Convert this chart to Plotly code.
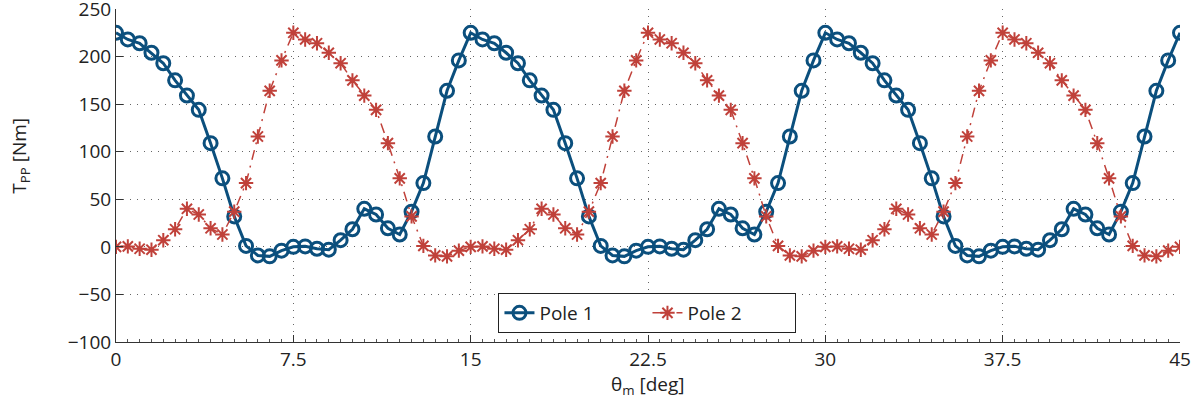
import plotly.graph_objects as go

# Rotor angle samples (deg), 0.5 deg step over 45 deg
theta_m = [i * 0.5 for i in range(91)]

# Pulsating torque of pole 1 (Nm)
pole1 = [
    225, 218, 214, 204, 193, 175, 159, 144, 109, 72, 32, 1, -9, -10, -4,
    0, 0.5, -2, -3, 7, 18.5, 40, 34, 19.5, 13, 37, 67, 116, 164, 196,
    225, 218, 214, 204, 193, 175, 159, 144, 109, 72, 32, 1, -9, -10, -4,
    0, 0.5, -2, -3, 7, 18.5, 40, 34, 19.5, 13, 37, 67, 116, 164, 196,
    225, 218, 214, 204, 193, 175, 159, 144, 109, 72, 32, 1, -9, -10, -4,
    0, 0.5, -2, -3, 7, 18.5, 40, 34, 19.5, 13, 37, 67, 116, 164, 196,
    225,
]

# Pulsating torque of pole 2 (Nm)
pole2 = [
    0, 0.5, -2, -3, 7, 18.5, 40, 34, 19.5, 13, 37, 67, 116, 164, 196,
    225, 218, 214, 204, 193, 175, 159, 144, 109, 72, 32, 1, -9, -10, -4,
    0, 0.5, -2, -3, 7, 18.5, 40, 34, 19.5, 13, 37, 67, 116, 164, 196,
    225, 218, 214, 204, 193, 175, 159, 144, 109, 72, 32, 1, -9, -10, -4,
    0, 0.5, -2, -3, 7, 18.5, 40, 34, 19.5, 13, 37, 67, 116, 164, 196,
    225, 218, 214, 204, 193, 175, 159, 144, 109, 72, 32, 1, -9, -10, -4,
    0,
]

x_ticks = [0, 7.5, 15, 22.5, 30, 37.5, 45]
x_tick_labels = ["0", "7.5", "15", "22.5", "30", "37.5", "45"]
y_ticks = [-100, -50, 0, 50, 100, 150, 200, 250]

BLUE = "#0b4f7d"
RED = "#c0413a"
FONT = "Open Sans"
TEXT = "#222222"

fig = go.Figure()

fig.add_trace(go.Scatter(
    x=theta_m, y=pole1, name="Pole 1", mode="lines+markers",
    line=dict(color=BLUE, width=3),
    marker=dict(symbol="circle-open", size=13, color=BLUE,
                line=dict(color=BLUE, width=3)),
))

fig.add_trace(go.Scatter(
    x=theta_m, y=pole2, name="Pole 2", mode="lines+markers",
    line=dict(color=RED, width=1.5, dash="10px,6px,2px,6px"),
    marker=dict(symbol="asterisk-open", size=12, color=RED,
                line=dict(color=RED, width=2)),
))

axis_common = dict(
    showline=True, linecolor="#333333", linewidth=1, mirror=False,
    ticks="inside", ticklen=7, tickcolor="#333333",
    showgrid=True, gridcolor="#666666", gridwidth=1, griddash="1px,6px",
    zeroline=False, ticklabeloverflow="allow", automargin=False,
    tickfont=dict(family=FONT, size=19, color=TEXT),
)

fig.update_xaxes(
    range=[0, 45], tickvals=x_ticks, ticktext=x_tick_labels,
    minor=dict(dtick=0.5, ticks="inside", ticklen=3, tickcolor="#555555",
               showgrid=False),
    **axis_common,
)
fig.update_yaxes(range=[-100, 250], tickvals=y_ticks, **axis_common)

fig.update_layout(
    width=1203, height=416,
    margin=dict(l=116, r=23, t=9, b=74),
    paper_bgcolor="white", plot_bgcolor="white",
    font=dict(family=FONT, size=19, color=TEXT),
    legend=dict(
        orientation="h", x=0.4995, xanchor="center", y=0.027, yanchor="bottom",
        bgcolor="white", bordercolor=TEXT, borderwidth=1,
        font=dict(family=FONT, size=19, color=TEXT),
        entrywidth=103, entrywidthmode="pixels",
    ),
    annotations=[
        dict(text="θ<sub>m</sub> [deg]", xref="paper", yref="paper",
             x=0.5, y=-0.13, xanchor="center", yanchor="middle",
             showarrow=False, font=dict(family=FONT, size=19, color=TEXT)),
        dict(text="T<sub>PP</sub> [Nm]", xref="paper", yref="paper",
             x=-0.091, y=0.56, xanchor="center", yanchor="middle",
             textangle=-90, showarrow=False,
             font=dict(family=FONT, size=19, color=TEXT)),
    ],
)

fig.write_html("out.html")
